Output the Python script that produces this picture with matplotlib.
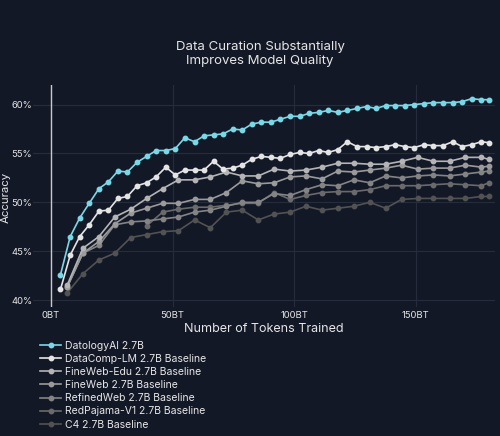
import matplotlib
matplotlib.use("Agg")
from matplotlib import pyplot as plt
import numpy as np

# token counts (billions) at each checkpoint
tokens_fine = [3.9, 7.9, 11.8, 15.7, 19.7, 23.6, 27.5, 31.4, 35.4, 39.3,
               43.2, 47.2, 51.1, 55.0, 59.0, 62.9, 66.8, 70.7, 74.7, 78.6,
               82.5, 86.5, 90.4, 94.3, 98.3, 102.2, 106.1, 110.0, 114.0, 117.9,
               121.8, 125.8, 129.7, 133.6, 137.6, 141.5, 145.4, 149.3, 153.3, 157.2,
               161.1, 165.1, 169.0, 172.9, 176.9, 180.0]
tokens_base = [6.6, 13.1, 19.7, 26.2, 32.8, 39.3, 45.9, 52.4, 59.0, 65.5,
               72.1, 78.6, 85.2, 91.7, 98.3, 104.8, 111.4, 117.9, 124.5, 131.0,
               137.6, 144.1, 150.7, 157.2, 163.8, 170.3, 176.9, 180.0]

datology = [42.6, 46.5, 48.4, 49.9, 51.4, 52.1, 53.2, 53.1, 54.1, 54.7,
            55.3, 55.3, 55.5, 56.6, 56.2, 56.8, 56.9, 57.0, 57.5, 57.4,
            58.0, 58.2, 58.2, 58.5, 58.8, 58.8, 59.1, 59.2, 59.4, 59.2,
            59.4, 59.6, 59.8, 59.6, 59.9, 59.9, 59.9, 60.0, 60.1, 60.2,
            60.2, 60.2, 60.3, 60.6, 60.5, 60.5]
dclm = [41.1, 44.6, 46.5, 47.7, 49.1, 49.2, 50.4, 50.6, 51.7, 52.0,
        52.6, 53.6, 52.8, 53.3, 53.3, 53.3, 54.2, 53.4, 53.5, 53.8,
        54.4, 54.7, 54.6, 54.5, 54.9, 55.1, 55.0, 55.3, 55.1, 55.4,
        56.2, 55.7, 55.7, 55.6, 55.7, 55.9, 55.7, 55.6, 55.9, 55.8,
        55.8, 56.2, 55.7, 55.9, 56.2, 56.1]
fineweb_edu = [41.5, 45.3, 46.5, 48.5, 49.3, 50.4, 51.4, 52.3, 52.3, 52.6,
               53.1, 52.7, 52.7, 53.4, 53.2, 53.3, 53.6, 54.0, 54.0, 53.9,
               53.9, 54.2, 54.6, 54.2, 54.2, 54.6, 54.6, 54.4]
fineweb = [41.3, 44.8, 46.0, 47.8, 48.9, 49.4, 49.9, 49.9, 50.3, 50.3,
           51.0, 52.2, 51.9, 52.0, 52.6, 52.7, 52.4, 53.2, 53.1, 53.3,
           53.5, 53.8, 53.4, 53.5, 53.5, 53.8, 53.6, 53.7]
refinedweb = [41.3, 44.8, 45.6, 47.7, 48.0, 48.1, 48.3, 48.5, 49.0, 49.2,
              49.6, 50.0, 50.0, 50.9, 50.7, 51.3, 51.8, 51.7, 52.3, 52.0,
              52.7, 52.5, 52.7, 52.8, 52.7, 52.9, 53.1, 53.2]
redpajama = [np.nan, np.nan, np.nan, np.nan, np.nan, 47.6, 49.0, 49.3, 49.5, 49.5,
             49.7, 49.9, 49.9, 51.0, 50.3, 50.7, 51.0, 51.1, 51.1, 51.3,
             51.7, 51.7, 51.7, 51.8, 51.9, 51.8, 51.7, 52.0]
c4 = [40.7, 42.7, 44.1, 44.8, 46.4, 46.7, 47.0, 47.1, 48.2, 47.4,
      49.0, 49.2, 48.2, 48.8, 49.0, 49.6, 49.2, 49.4, 49.6, 50.0,
      49.4, 50.3, 50.4, 50.4, 50.4, 50.4, 50.6, 50.6]

series = [
    ("DatologyAI 2.7B", tokens_fine, datology, "#7ad8e6"),
    ("DataComp-LM 2.7B Baseline", tokens_fine, dclm, "#e4e4e4"),
    ("FineWeb-Edu 2.7B Baseline", tokens_base, fineweb_edu, "#b4b4b4"),
    ("FineWeb 2.7B Baseline", tokens_base, fineweb, "#9a9a9a"),
    ("RefinedWeb 2.7B Baseline", tokens_base, refinedweb, "#848484"),
    ("RedPajama-V1 2.7B Baseline", tokens_base, redpajama, "#6a6a6a"),
    ("C4 2.7B Baseline", tokens_base, c4, "#525252"),
]

bg = "#131827"
txt = "#e6e6e6"
plt.rcParams['font.family'] = ['Inter', 'DejaVu Sans']

fig = plt.figure(figsize=(5, 4.36), dpi=100)
fig.patch.set_facecolor(bg)
ax = fig.add_axes([0.066, 0.296, 0.924, 0.509])
ax.set_facecolor(bg)

for name, xs, ys, col in reversed(series):
    ax.plot(xs, ys, color=col, lw=1.2, marker="o", ms=3.2,
            label=name, zorder=3)

ax.set_xlim(-7.4, 182.5)
ax.set_ylim(39.3, 62.0)
ax.set_yticks([40, 45, 50, 55, 60])
ax.set_yticklabels(["40%", "45%", "50%", "55%", "60%"])
ax.set_xticks([0, 50, 100, 150])
ax.set_xticklabels(["0BT", "50BT", "100BT", "150BT"])
ax.grid(True, color="#262c3b", lw=0.8, zorder=0)
ax.axvline(0, color="#c8c8c8", lw=1.0, zorder=2)
for s in ax.spines.values():
    s.set_visible(False)
ax.tick_params(length=0, colors=txt, labelsize=6.8)
ax.tick_params(axis="y", pad=0.5)
ax.tick_params(axis="x", pad=3)
ax.set_xlabel("Number of Tokens Trained", color=txt, fontsize=9, labelpad=2)
fig.text(0.011, 0.548, "Accuracy", rotation=90, ha="center", va="center",
         color=txt, fontsize=8.2)

fig.text(0.52, 0.876, "Data Curation Substantially\nImproves Model Quality",
         ha="center", va="center", color=txt, fontsize=9.5, linespacing=1.3)

h, l = ax.get_legend_handles_labels()
leg = fig.legend(h[::-1], l[::-1], loc="upper left", bbox_to_anchor=(0.072, 0.228),
                 frameon=False, fontsize=7.5, labelcolor=txt, handlelength=2.0,
                 handletextpad=0.4, labelspacing=0.3, borderaxespad=0)

fig.savefig("out.png", dpi=100, facecolor=bg)
